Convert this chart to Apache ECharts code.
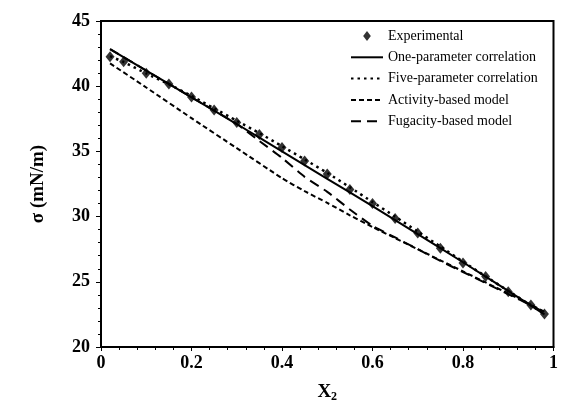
<!DOCTYPE html>
<html>
<head>
<meta charset="utf-8">
<script src="https://cdn.jsdelivr.net/npm/echarts@6/dist/echarts.min.js"></script>
<style>
  html, body { margin: 0; padding: 0; background: #fff; }
  #chart { width: 561px; height: 410px; }
</style>
</head>
<body>
<div id="chart"></div>
<script>
// Mole fraction of component 2 and measured surface tension (mN/m)
const expX = [0.02, 0.05, 0.10, 0.15, 0.20, 0.25, 0.30, 0.35, 0.40, 0.45, 0.50,
              0.55, 0.60, 0.65, 0.70, 0.75, 0.80, 0.85, 0.90, 0.95, 0.98];
const expSigma = [42.26, 41.88, 40.99, 40.17, 39.17, 38.17, 37.22, 36.30, 35.30, 34.26, 33.27,
                  32.08, 31.00, 29.85, 28.74, 27.57, 26.44, 25.41, 24.24, 23.22, 22.53];

// Correlation / model curves
const onePX = [0.02, 0.10, 0.20, 0.30, 0.40, 0.50, 0.60, 0.70, 0.80, 0.90, 0.98];
const onePSigma = [42.85, 41.20, 39.15, 37.10, 35.00, 32.90, 30.80, 28.65, 26.50, 24.30, 22.50];

const fivePX = [0.02, 0.05, 0.10, 0.15, 0.20, 0.25, 0.30, 0.35, 0.40, 0.45, 0.50,
                0.55, 0.60, 0.65, 0.70, 0.75, 0.80, 0.85, 0.90, 0.95, 0.98];
const fivePSigma = [42.30, 41.85, 40.98, 40.15, 39.25, 38.30, 37.35, 36.40, 35.40, 34.38, 33.35,
                    32.25, 31.12, 30.00, 28.85, 27.70, 26.55, 25.42, 24.30, 23.20, 22.55];

const actX = [0.02, 0.10, 0.20, 0.30, 0.40, 0.45, 0.50, 0.55, 0.60, 0.65, 0.70,
              0.75, 0.80, 0.85, 0.90, 0.95, 0.98];
const actSigma = [41.75, 39.90, 37.55, 35.25, 32.95, 31.95, 31.05, 30.10, 29.20, 28.35, 27.50,
                  26.65, 25.80, 24.95, 24.10, 23.25, 22.70];

const fugX = [0.02, 0.10, 0.20, 0.30, 0.35, 0.40, 0.45, 0.50, 0.55, 0.60, 0.65,
              0.70, 0.75, 0.80, 0.85, 0.90, 0.95, 0.98];
const fugSigma = [42.85, 41.20, 39.15, 37.10, 35.80, 34.50, 33.05, 31.90, 30.55, 29.30, 28.40,
                  27.50, 26.60, 25.75, 24.90, 24.05, 23.20, 22.65];

const seriesNames = ['Experimental', 'One-parameter correlation', 'Five-parameter correlation',
                     'Activity-based model', 'Fugacity-based model'];

const pairs = (xs, ys) => xs.map((x, i) => [x, ys[i]]);
const serif = '"Liberation Serif", "Times New Roman", serif';

const chart = echarts.init(document.getElementById('chart'), null, { renderer: 'canvas' });

const lineBase = (name, data, lineStyle) => ({
  name, type: 'line', data, showSymbol: false, symbol: 'none', smooth: 0.2,
  lineStyle: Object.assign({ color: '#000', width: 2 }, lineStyle),
  itemStyle: { color: '#000' }, z: 2
});

// legend entry for a curve: line sample only, no marker
const lineLegend = name => ({ name, itemStyle: { opacity: 0 } });

chart.setOption({
  animation: false,
  backgroundColor: '#fff',
  grid: {
    left: 101, right: 6, top: 21, bottom: 63,
    show: true, borderColor: '#000', borderWidth: 2, backgroundColor: 'transparent'
  },
  legend: {
    orient: 'vertical',
    left: 345, top: 24,
    itemWidth: 32, itemHeight: 14, itemGap: 7.3,
    textStyle: { fontFamily: serif, fontSize: 14, color: '#000' },
    data: [
      { name: seriesNames[0], icon: 'path://M-1,-1L-1,-1M1,1L1,1M0,-0.7L0.55,0L0,0.7L-0.55,0Z' },
      lineLegend(seriesNames[1]),
      lineLegend(seriesNames[2]),
      lineLegend(seriesNames[3]),
      lineLegend(seriesNames[4])
    ]
  },
  xAxis: {
    type: 'value', min: 0, max: 1, interval: 0.2,
    name: '{b|X}{s|2}', nameLocation: 'middle', nameGap: 35,
    nameTextStyle: {
      rich: {
        b: { fontFamily: serif, fontWeight: 'bold', fontSize: 19, color: '#000' },
        s: { fontFamily: serif, fontWeight: 'bold', fontSize: 12, color: '#000', verticalAlign: 'bottom', padding: [9, 0, 0, 0] }
      }
    },
    axisLine: { show: true, onZero: false, lineStyle: { color: '#000', width: 2 } },
    axisTick: { show: true, inside: false, length: 4, lineStyle: { color: '#000', width: 1 } },
    minorTick: { show: true, splitNumber: 5, length: 3, lineStyle: { color: '#000', width: 1 } },
    splitLine: { show: false },
    axisLabel: {
      margin: 7, fontFamily: serif, fontWeight: 'bold', fontSize: 18, color: '#000',
      formatter: v => (v === 0 ? '0' : v === 1 ? '1' : v.toFixed(1))
    }
  },
  yAxis: {
    type: 'value', min: 20, max: 45, interval: 5,
    name: 'σ (mN/m)', nameLocation: 'middle', nameGap: 53, nameRotate: 90,
    nameTextStyle: { fontFamily: serif, fontWeight: 'bold', fontSize: 19, color: '#000' },
    axisLine: { show: true, onZero: false, lineStyle: { color: '#000', width: 2 } },
    axisTick: { show: true, inside: false, length: 5, lineStyle: { color: '#000', width: 1 } },
    minorTick: { show: true, splitNumber: 5, length: 3, lineStyle: { color: '#000', width: 1 } },
    splitLine: { show: false },
    axisLabel: { margin: 11, fontFamily: serif, fontWeight: 'bold', fontSize: 18, color: '#000' }
  },
  series: [
    {
      name: seriesNames[0], type: 'scatter', data: pairs(expX, expSigma),
      symbol: 'diamond', symbolSize: [9, 11],
      itemStyle: { color: '#000' }, z: 5
    },
    lineBase(seriesNames[1], pairs(onePX, onePSigma), { type: 'solid', width: 2 }),
    lineBase(seriesNames[2], pairs(fivePX, fivePSigma), { type: [2.5, 4], width: 2.5 }),
    lineBase(seriesNames[3], pairs(actX, actSigma), { type: [5, 3], width: 2 }),
    lineBase(seriesNames[4], pairs(fugX, fugSigma), { type: [10, 6], width: 2 })
  ]
});
</script>
</body>
</html>
